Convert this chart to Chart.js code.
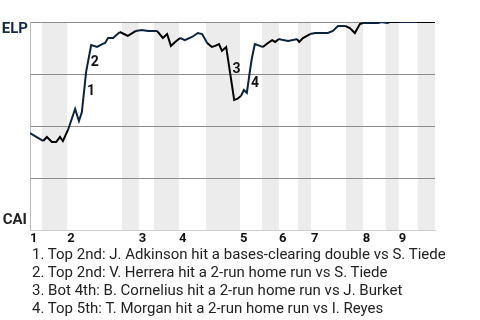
<!DOCTYPE html>
<html><head><meta charset="utf-8">
<script src="https://cdn.jsdelivr.net/npm/chart.js@4/dist/chart.umd.min.js"></script>
<style>
html,body{margin:0;padding:0;background:#fff;}
#wrap{position:relative;width:480px;height:320px;}
#notes{position:absolute;left:32px;top:245px;font:15px Roboto,sans-serif;color:#222;line-height:18px;white-space:nowrap;}
</style></head><body>
<div id="wrap"><canvas id="c" width="480" height="320"></canvas><div id="notes"></div></div>
<script>
// plate-appearance index (x) and win probability for ELP (y)
const paIndex = [0.0,3.1,4.0,5.2,6.2,7.1,7.8,9.0,10.7,11.6,12.3,13.3,14.5,15.9,17.1,17.8,18.5,19.7,21.3,23.2,25.1,26.5,28.0,30.1,31.5,32.5,33.4,34.4,35.6,36.7,38.4,39.8,40.8,42.0,43.1,43.9,44.8,45.5,46.5,48.4,49.1,50.0,50.7,51.4,52.1,52.6,53.3,54.5,55.2,56.4,57.4,58.1,59.0,60.0,61.2,62.3,63.3,63.8,64.7,66.4,67.6,69.2,70.6,71.8,73.0,74.7,75.8,77.0,78.2,78.9,80.6,82.5,83.4,84.6,85.3,87.7,91.7,96.0];
const winProb = [0.466,0.428,0.447,0.423,0.423,0.447,0.428,0.481,0.582,0.524,0.567,0.760,0.889,0.880,0.894,0.899,0.923,0.923,0.952,0.933,0.957,0.962,0.957,0.957,0.923,0.942,0.885,0.904,0.923,0.913,0.928,0.947,0.942,0.899,0.880,0.885,0.894,0.861,0.880,0.625,0.630,0.644,0.673,0.659,0.760,0.827,0.894,0.885,0.880,0.899,0.913,0.904,0.918,0.913,0.909,0.913,0.918,0.904,0.923,0.942,0.947,0.947,0.947,0.957,0.981,0.981,0.971,0.947,0.990,0.995,0.995,0.995,1.0,0.995,1.0,1.0,1.0,1.0];
// start of each half inning (top 1st, bot 1st, top 2nd, ...) and end of game
const halfStarts = [0,2.8,8.8,21.8,25.8,29.4,35.3,41.7,49.8,55.0,59.0,63.5,66.6,74.9,78.9,84.3,87.4,91.9,96];
const innings = ['1','2','3','4','5','6','7','8','9'];
const teams = ['ELP','CAI'];
const eventAt = [12.8,13.7,47.3,51.7];
const eventLabels = ['1','2','3','4'];
const eventNotes = [
 'Top 2nd: J. Adkinson hit a bases-clearing double vs S. Tiede',
 'Top 2nd: V. Herrera hit a 2-run home run vs S. Tiede',
 'Bot 4th: B. Cornelius hit a 2-run home run vs J. Burket',
 'Top 5th: T. Morgan hit a 2-run home run vs I. Reyes'
];

document.getElementById('notes').innerHTML = eventNotes.map((t,i)=>'<div>'+eventLabels[i]+'. '+t+'</div>').join('');

const topStarts = halfStarts.filter((v,i)=>i%2===0 && i<18);
function isBottom(x){
  for(let i=0;i<halfStarts.length-1;i++){ if(x>=halfStarts[i] && x<halfStarts[i+1]) return i%2===1; }
  return true;
}
function probAt(x){
  for(let i=0;i<paIndex.length-1;i++){
    if(x>=paIndex[i] && x<=paIndex[i+1]){
      const f=(x-paIndex[i])/(paIndex[i+1]-paIndex[i]);
      return winProb[i]+f*(winProb[i+1]-winProb[i]);
    }
  }
  return winProb[winProb.length-1];
}
const NAVY='#0c2340';
const bands = {
  id:'bands',
  beforeDraw(chart){
    const {ctx, chartArea:a, scales:{x}} = chart;
    ctx.save(); ctx.fillStyle='#ececec';
    for(let i=1;i<halfStarts.length-1;i+=2){
      const x0=x.getPixelForValue(halfStarts[i]), x1=x.getPixelForValue(halfStarts[i+1]);
      ctx.fillRect(x0,a.top,x1-x0,a.bottom-a.top);
    }
    ctx.restore();
  }
};
const labels = {
  id:'labels',
  afterDraw(chart){
    const {ctx, scales:{x,y}} = chart;
    ctx.save();
    ctx.font='bold 15px Roboto, sans-serif';
    ctx.textAlign='right'; ctx.textBaseline='middle';
    ctx.fillStyle='#13294b';
    ctx.fillText(teams[0], x.left-2, y.getPixelForValue(1)+7);
    ctx.fillStyle='#222';
    ctx.fillText(teams[1], x.left-3, y.getPixelForValue(0)-10);
    ctx.font='bold 14px Roboto, sans-serif';
    ctx.textAlign='left'; ctx.fillStyle='#111';
    eventAt.forEach((v,i)=>{
      ctx.fillText(eventLabels[i], x.getPixelForValue(v)+3, y.getPixelForValue(probAt(v)));
    });
    ctx.restore();
  }
};
new Chart(document.getElementById('c'), {
  type:'line',
  data:{datasets:[{
    data: paIndex.map((v,i)=>({x:v,y:winProb[i]})),
    borderColor:NAVY, borderWidth:2, pointRadius:0, tension:0, fill:false,
    segment:{borderColor: c => isBottom((c.p0.parsed.x+c.p1.parsed.x)/2) ? '#000' : NAVY}
  }]},
  options:{
    responsive:false, animation:false, devicePixelRatio:1,
    layout:{padding:{left:0,right:45,top:22,bottom:72}},
    plugins:{legend:{display:false}, tooltip:{enabled:false}},
    scales:{
      x:{type:'linear', min:0, max:96,
        grid:{display:false, drawTicks:false},
        border:{display:true, color:'#cccccc'},
        afterBuildTicks: s => { s.ticks = topStarts.map(v=>({value:v})); },
        afterFit: s => { s.height = 18; },
        ticks:{autoSkip:false, maxRotation:0, align:'start', padding:1, color:'#111',
          font:{family:'Roboto', size:13, weight:'bold'},
          callback:(v,i)=>innings[i]}
      },
      y:{min:0, max:1,
        ticks:{stepSize:0.25, display:false},
        grid:{drawTicks:false, color: c => c.tick.value===0 ? '#cccccc' : '#8c8c8c'},
        border:{color:'#bbbbbb'},
        afterFit: s => { s.width = 30; }
      }
    }
  },
  plugins:[bands, labels]
});
</script>
</body></html>
